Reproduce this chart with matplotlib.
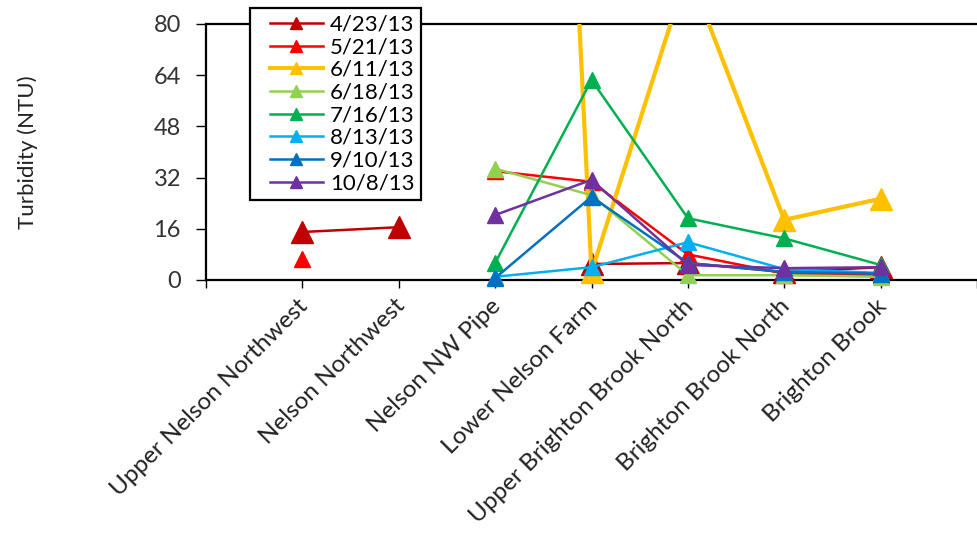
import numpy as np
import matplotlib
matplotlib.use("Agg")
import matplotlib.pyplot as plt
from matplotlib.lines import Line2D
from matplotlib.legend_handler import HandlerLine2D
from matplotlib.transforms import ScaledTranslation

plt.rcParams['font.family'] = ['Lato', 'DejaVu Sans']

sites = ["Upper Nelson Northwest", "Nelson Northwest", "Nelson NW Pipe",
         "Lower Nelson Farm", "Upper Brighton Brook North",
         "Brighton Brook North", "Brighton Brook"]

nan = np.nan
dates = ["4/23/13", "5/21/13", "6/11/13", "6/18/13",
         "7/16/13", "8/13/13", "9/10/13", "10/8/13"]

t_0423 = [15.0, 16.5, nan, 5.0, 5.3, 2.5, 4.0]
t_0521 = [6.5, nan, 34.0, 30.7, 8.0, 2.0, 1.5]
t_0611 = [nan, nan, 620.0, 2.5, 97.0, 18.8, 25.4]
t_0618 = [nan, nan, 34.8, 26.5, 1.5, 1.5, 1.0]
t_0716 = [nan, nan, 5.3, 62.5, 19.3, 13.0, 4.7]
t_0813 = [nan, nan, 1.0, 4.0, 11.8, 3.4, 2.2]
t_0910 = [nan, nan, 0.6, 26.0, 5.3, 2.5, 2.0]
t_1008 = [nan, nan, 20.3, 31.3, 4.7, 3.7, 4.0]

series = [t_0423, t_0521, t_0611, t_0618, t_0716, t_0813, t_0910, t_1008]
colors = ["#C00000", "#FF0000", "#FFC000", "#92D050",
          "#00B050", "#00B0F0", "#0070C0", "#7030A0"]
widths = [1.8, 1.8, 3.0, 1.8, 1.8, 1.8, 1.8, 1.8]
msizes = [16, 11, 16, 11, 11, 11, 11, 11]

Y_MAX = 80

fig = plt.figure(figsize=(9.77, 5.34), dpi=100)
W, H = 977, 534
x_left, x_right, y_top, y_bot = 206, 977, 24, 280
ax = fig.add_axes([x_left / W, 1 - y_bot / H, (x_right - x_left) / W,
                   (y_bot - y_top) / H])

x = np.arange(1, len(sites) + 1)
for k, (vals, c, lw, ms) in enumerate(zip(series, colors, widths, msizes)):
    v = np.asarray(vals, dtype=float)
    # connecting lines are clipped at the plot frame
    ax.plot(x, v, color=c, lw=lw, solid_joinstyle="round",
            solid_capstyle="round", zorder=2 + 0.1 * k)
    # markers inside the value range are drawn whole, even over the axis line
    shown = np.where(v <= Y_MAX, v, nan)
    ax.plot(x, shown, ls="none", marker="^", ms=ms, color=c,
            markerfacecolor=c, markeredgecolor=c, clip_on=False,
            zorder=2 + 0.1 * k + 0.05)

slot = 97.0
ax.set_xlim(0, (x_right - x_left) / slot)
ax.set_ylim(0, Y_MAX)
ax.set_yticks(np.arange(0, Y_MAX + 1, 16))
ax.set_xticks(np.arange(0, 9))
ax.set_xticklabels([""] + sites + [""])

for side in ["left", "bottom", "top"]:
    ax.spines[side].set_linewidth(1.6)
    ax.spines[side].set_color("black")
    ax.spines[side].set_zorder(1.5)
ax.spines["right"].set_visible(False)

ax.tick_params(axis="y", direction="out", length=7, width=1.0,
               labelsize=17, labelcolor="#333333", pad=11)
ax.tick_params(axis="x", direction="out", length=6, width=1.0,
               labelsize=17.5, labelcolor="#222222", pad=5)
shift = ScaledTranslation(-5 / 100, 0, fig.dpi_scale_trans)
for lab in ax.get_xticklabels():
    lab.set_rotation(45)
    lab.set_ha("right")
    lab.set_va("top")
    lab.set_rotation_mode("anchor")
    lab.set_transform(lab.get_transform() + shift)

fig.text(28 / W, 1 - 152 / H, "Turbidity (NTU)", rotation=90,
         ha="center", va="center", fontsize=16, color="#222222")

handles = [Line2D([0], [0], color=c, lw=lw if lw < 3 else 2.8, marker="^",
                  ms=9, markerfacecolor=c, markeredgecolor=c)
           for c, lw in zip(colors, widths)]
leg = fig.legend(handles, dates, loc="upper left",
                 bbox_to_anchor=(250 / W, 1 - 8 / H),
                 frameon=True, fancybox=False, shadow=False,
                 fontsize=16, handlelength=2.97, handletextpad=0.32,
                 labelspacing=0.12, borderpad=0.3, borderaxespad=0,
                 handler_map={Line2D: HandlerLine2D(xpad=0.59)})
leg.get_frame().set_edgecolor("black")
leg.get_frame().set_linewidth(1.6)
leg.get_frame().set_facecolor("white")
leg.get_frame().set_alpha(1)
leg.set_zorder(10)

fig.savefig("out.png", dpi=100, facecolor="white")
